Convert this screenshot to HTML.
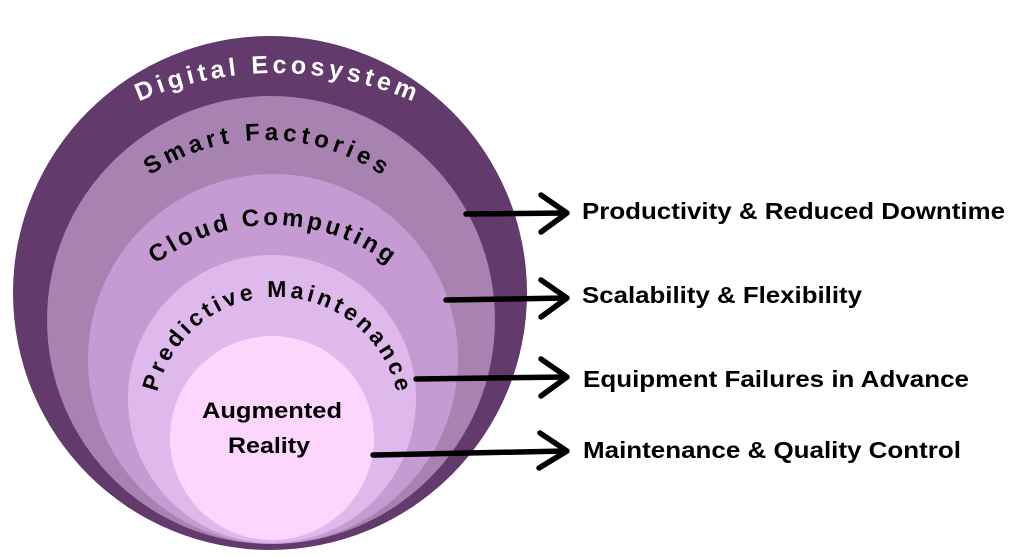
<!DOCTYPE html>
<html><head><meta charset="utf-8"><style>
html,body{margin:0;padding:0;background:#fff;}
svg{display:block;}
</style></head><body>
<svg width="1024" height="558" viewBox="0 0 1024 558" xmlns="http://www.w3.org/2000/svg" font-family="Liberation Sans, sans-serif" font-weight="bold">
<defs>
<path id="pD" d="M -68 417 A 344 344 0 0 1 620 417"/>
<path id="pS" d="M 58 348 A 208 208 0 0 1 474 348"/>
<path id="pC" d="M 79 418 A 193 193 0 0 1 465 418"/>
<path id="pP" d="M 154 420 A 123 123 0 0 1 400 420"/>
</defs>
<circle cx="270" cy="293" r="257" fill="#623a6b"/>
<circle cx="271" cy="320" r="224" fill="#a882b0"/>
<circle cx="273" cy="359" r="185" fill="#c69bd4"/>
<circle cx="272" cy="399" r="144" fill="#e0b9ec"/>
<circle cx="272" cy="438" r="102" fill="#fdd6fd"/>

<text font-size="25" fill="#fff"><textPath href="#pD" startOffset="50%" text-anchor="middle" textLength="282" lengthAdjust="spacing">Digital Ecosystem</textPath></text>
<text font-size="24" fill="#000"><textPath href="#pS" startOffset="50%" text-anchor="middle" textLength="246" lengthAdjust="spacing">Smart Factories</textPath></text>
<text font-size="24" fill="#000"><textPath href="#pC" startOffset="50%" text-anchor="middle" textLength="250" lengthAdjust="spacing">Cloud Computing</textPath></text>
<text font-size="23" fill="#000"><textPath href="#pP" startOffset="50%" text-anchor="middle" textLength="330" lengthAdjust="spacing">Predictive Maintenance</textPath></text>

<text x="272" y="418" font-size="22" text-anchor="middle" textLength="140" lengthAdjust="spacingAndGlyphs">Augmented</text>
<text x="269" y="453" font-size="22" text-anchor="middle" textLength="82" lengthAdjust="spacingAndGlyphs">Reality</text>

<g stroke="#000" stroke-width="5.5" fill="none" stroke-linecap="round" stroke-linejoin="round">
<path d="M466 214 L566 213"/><path d="M541 195 L567 213 L541 232"/>
<path d="M446 300 L566 298"/><path d="M541 280 L567 298 L541 317"/>
<path d="M416 379 L566 377"/><path d="M541 359 L567 377 L541 396"/>
<path d="M373 455 L566 451"/><path d="M540 433 L567 451 L539 468"/>
</g>

<g font-size="23" fill="#000">
<text x="582" y="219" textLength="423" lengthAdjust="spacingAndGlyphs">Productivity &amp; Reduced Downtime</text>
<text x="582" y="303" textLength="280" lengthAdjust="spacingAndGlyphs">Scalability &amp; Flexibility</text>
<text x="583" y="387" textLength="386" lengthAdjust="spacingAndGlyphs">Equipment Failures in Advance</text>
<text x="583" y="458" textLength="378" lengthAdjust="spacingAndGlyphs">Maintenance &amp; Quality Control</text>
</g>
</svg>
</body></html>
